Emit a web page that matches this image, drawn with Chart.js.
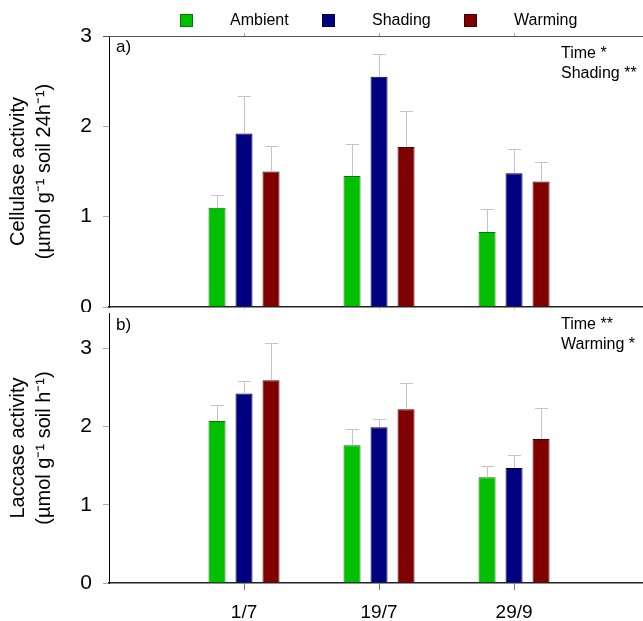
<!DOCTYPE html>
<html>
<head>
<meta charset="utf-8">
<script src="https://cdn.jsdelivr.net/npm/chart.js@4.4.1/dist/chart.umd.min.js"></script>
<style>
  body { margin: 0; background: #fff; }
  #wrap { position: relative; width: 643px; height: 621px; }
  .panel { position: absolute; left: 0; width: 643px; }
</style>
</head>
<body>
<div id="wrap">
  <div class="panel" style="top:0;height:312px"><canvas id="cellCanvas"></canvas></div>
  <div class="panel" style="top:306px;height:315px"><canvas id="lacCanvas"></canvas></div>
</div>
<script>
// --- data ---
const dates = ["1/7", "19/7", "29/9"];
const treatments = ["Ambient", "Shading", "Warming"];

// cellulase (top panel), means and upper error (SE)
const cellAmbient = [1.10, 1.45, 0.83];
const cellAmbientErr = [0.14, 0.35, 0.26];
const cellShading = [1.92, 2.55, 1.48];
const cellShadingErr = [0.42, 0.25, 0.27];
const cellWarming = [1.50, 1.77, 1.39];
const cellWarmingErr = [0.28, 0.40, 0.22];

// laccase (bottom panel)
const lacAmbient = [2.07, 1.76, 1.35];
const lacAmbientErr = [0.21, 0.21, 0.14];
const lacShading = [2.42, 1.99, 1.47];
const lacShadingErr = [0.16, 0.11, 0.16];
const lacWarming = [2.59, 2.22, 1.84];
const lacWarmingErr = [0.48, 0.34, 0.40];

const cellNotes = ["Time *", "Shading **"];
const lacNotes = ["Time **", "Warming *"];

// --- styling ---
const FONT = "'Liberation Sans', Arial, sans-serif";
const fills = ["#00c000", "#000080", "#800000"];
const edges = ["#007a00", "#00004a", "#4a0000"];

// --- plugins ---
const errorBars = {
  id: "errorBars",
  afterDatasetsDraw(chart) {
    const ctx = chart.ctx;
    const y = chart.scales.y;
    ctx.save();
    ctx.strokeStyle = "#c4c4c4";
    ctx.lineWidth = 1;
    chart.data.datasets.forEach((ds, i) => {
      chart.getDatasetMeta(i).data.forEach((bar, j) => {
        const top = Math.round(y.getPixelForValue(ds.data[j].y + ds.err[j])) + 0.5;
        const x = Math.round(bar.x) + 0.5;
        ctx.beginPath();
        ctx.moveTo(x, bar.y);
        ctx.lineTo(x, top);
        ctx.moveTo(x - 6.5, top);
        ctx.lineTo(x + 6.5, top);
        ctx.stroke();
      });
    });
    ctx.restore();
  }
};

// panel letter + significance notes, offsets from the top of the plot area
function panelNotes(tag, lines, tagY, lineY) {
  return {
    id: "notes",
    afterDraw(chart) {
      const { ctx, chartArea } = chart;
      ctx.save();
      ctx.fillStyle = "#000";
      ctx.font = "17px " + FONT;
      ctx.textBaseline = "middle";
      ctx.fillText(tag, chartArea.left + 7, chartArea.top + tagY);
      ctx.font = "16px " + FONT;
      ctx.textBaseline = "alphabetic";
      lines.forEach((t, i) => ctx.fillText(t, 561, chartArea.top + lineY + i * 20));
      ctx.restore();
    }
  };
}

// top frame line and legend for the upper panel
const topFrame = {
  id: "topFrame",
  afterDraw(chart) {
    const { ctx, chartArea } = chart;
    const x = chart.scales.x;
    ctx.save();
    ctx.strokeStyle = "#555";
    ctx.lineWidth = 1;
    ctx.beginPath();
    ctx.moveTo(103, chartArea.top + 0.5);
    ctx.lineTo(chartArea.right, chartArea.top + 0.5);
    ctx.stroke();
    ctx.strokeStyle = "#aaa";
    dates.forEach((d, i) => {
      const px = Math.round(x.getPixelForValue(i + 1)) + 0.5;
      ctx.beginPath();
      ctx.moveTo(px, chartArea.top);
      ctx.lineTo(px, chartArea.top - 3);
      ctx.stroke();
    });

    // legend
    ctx.font = "16px " + FONT;
    ctx.textBaseline = "middle";
    treatments.forEach((t, k) => {
      const bx = 180 + k * 142;
      ctx.fillStyle = fills[k];
      ctx.fillRect(bx, 14, 13, 13);
      ctx.strokeStyle = edges[k];
      ctx.strokeRect(bx + 0.5, 14.5, 12, 12);
      ctx.fillStyle = "#000";
      ctx.fillText(t, bx + 50, 21);
    });
    ctx.restore();
  }
};

// --- config builders ---
function barSets(series) {
  return series.map((s, k) => ({
    label: treatments[k],
    data: s.vals.map((v, i) => ({ x: i + 1, y: v })),
    err: s.err,
    backgroundColor: fills[k],
    borderColor: edges[k],
    borderWidth: 1,
    borderSkipped: "bottom",
    categoryPercentage: 0.6,
    barPercentage: 0.63
  }));
}

function yAxis(max, titleLines) {
  return {
    min: 0,
    max,
    ticks: { stepSize: 1, includeBounds: false, color: "#000", padding: 11, font: { family: FONT, size: 21 } },
    grid: { drawOnChartArea: false, tickLength: 6, color: "#aaa" },
    border: { color: "#000", width: 1 },
    title: {
      display: true,
      text: titleLines,
      color: "#000",
      padding: { top: 5, bottom: 0 },
      font: { family: FONT, size: 20, lineHeight: 1.33 }
    },
    afterFit(s) { s.width = 109; s.paddingTop = 0; s.paddingBottom = 0; }
  };
}

function xAxis(showLabels, height, tickLen, tickColor) {
  return {
    type: "linear",
    min: 0,
    max: 3.955,
    offset: false,
    afterBuildTicks(s) { s.ticks = dates.map((d, i) => ({ value: i + 1 })); },
    ticks: {
      display: showLabels,
      autoSkip: false,
      maxRotation: 0,
      padding: 11,
      color: "#000",
      font: { family: FONT, size: 19 },
      callback: v => dates[v - 1]
    },
    grid: { drawOnChartArea: false, offset: false, tickLength: tickLen, color: tickColor },
    border: { color: "#222", width: 1.5 },
    afterFit(s) { s.height = height; s.paddingLeft = 0; s.paddingRight = 0; }
  };
}

function buildConfig(series, yMax, yTitle, padTop, xHeight, showLabels, tickLen, tickColor) {
  return {
    type: "bar",
    data: { datasets: barSets(series) },
    options: {
      responsive: true,
      maintainAspectRatio: false,
      animation: false,
      layout: { padding: { top: padTop, left: 0, right: 0, bottom: 0 } },
      plugins: { legend: { display: false }, tooltip: { enabled: false } },
      scales: {
        x: xAxis(showLabels, xHeight, tickLen, tickColor),
        y: yAxis(yMax, yTitle)
      }
    }
  };
}

// --- render ---
const cellSeries = [
  { vals: cellAmbient, err: cellAmbientErr },
  { vals: cellShading, err: cellShadingErr },
  { vals: cellWarming, err: cellWarmingErr }
];
const lacSeries = [
  { vals: lacAmbient, err: lacAmbientErr },
  { vals: lacShading, err: lacShadingErr },
  { vals: lacWarming, err: lacWarmingErr }
];

const cellConfig = buildConfig(cellSeries, 3, ["Cellulase activity", "(\u00b5mol g\u207b\u00b9 soil 24h\u207b\u00b9)"], 36, 5, false, 3, "#ccc");
cellConfig.plugins = [errorBars, topFrame, panelNotes("a)", cellNotes, 11, 22)];
new Chart(document.getElementById("cellCanvas"), cellConfig);

const lacConfig = buildConfig(lacSeries, 3.45, ["Laccase activity", "(\u00b5mol g\u207b\u00b9 soil h\u207b\u00b9)"], 7, 38, true, 7, "#777");
lacConfig.plugins = [errorBars, panelNotes("b)", lacNotes, 12, 16)];
new Chart(document.getElementById("lacCanvas"), lacConfig);
</script>
</body>
</html>
